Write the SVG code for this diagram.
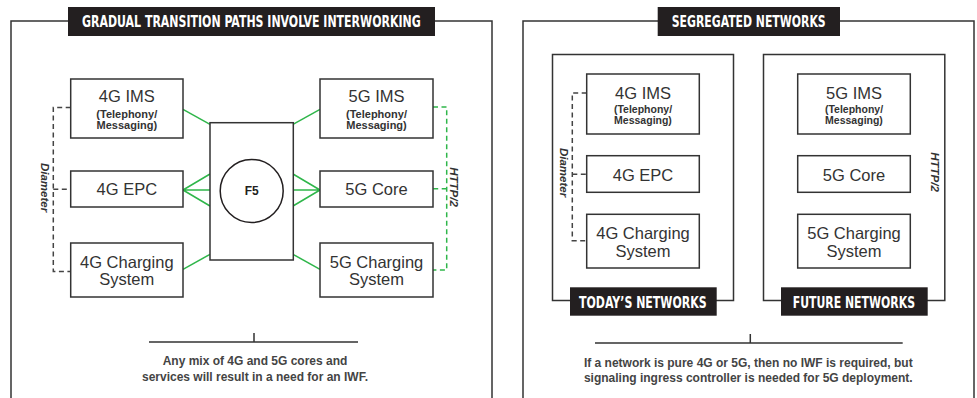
<svg xmlns="http://www.w3.org/2000/svg" width="977" height="398" viewBox="0 0 977 398">
<style>
.bg{fill:#ffffff}
.frame{fill:none;stroke:#333333;stroke-width:1.5}
.box{fill:#ffffff;stroke:#333333;stroke-width:1.5}
.tag{fill:#231f20}
.tagtxt{fill:#ffffff;font-family:"DejaVu Sans Condensed","Liberation Sans Narrow","Liberation Sans",sans-serif;font-weight:bold;font-size:15px}
.lbl{fill:#333333;font-family:"Liberation Sans",Arial,sans-serif;font-size:16.5px;text-anchor:middle}
.sub{fill:#333333;font-family:"Liberation Sans",Arial,sans-serif;font-size:11px;font-weight:bold;text-anchor:middle}
.sub2{fill:#333333;font-family:"Liberation Sans",Arial,sans-serif;font-size:10.5px;font-weight:bold;text-anchor:middle}
.f5{fill:#231f20;font-family:"Liberation Sans",Arial,sans-serif;font-size:12px;font-weight:bold;text-anchor:middle}
.proto{fill:#333333;font-family:"Liberation Sans",Arial,sans-serif;font-size:11.5px;font-weight:bold;font-style:italic;text-anchor:middle}
.note{fill:#444444;font-family:"Liberation Sans",Arial,sans-serif;font-size:12px;font-weight:bold;text-anchor:middle}
.green{fill:none;stroke:#2fb64a;stroke-width:1.5}
.gdash{fill:none;stroke:#2fb64a;stroke-width:1.5;stroke-dasharray:5 3.5}
.kdash{fill:none;stroke:#444444;stroke-width:1.5;stroke-dasharray:5 3.5}
.rule{fill:none;stroke:#333333;stroke-width:1.5}
</style>
<rect class="bg" x="0" y="0" width="977" height="398"/>

<!-- Left panel frame and title -->
<g id="panel-left">
<rect class="frame" x="11" y="21" width="481" height="400"/>
<rect class="tag" x="68" y="7" width="367" height="29"/>
<text class="tagtxt" x="82" y="26.7" textLength="338.7" lengthAdjust="spacingAndGlyphs">GRADUAL TRANSITION PATHS INVOLVE INTERWORKING</text>
</g>

<!-- Right panel frame and title -->
<g id="panel-right">
<rect class="frame" x="523" y="21" width="451" height="400"/>
<rect class="tag" x="657.7" y="7" width="182.3" height="29"/>
<text class="tagtxt" x="671.7" y="26.7" textLength="154" lengthAdjust="spacingAndGlyphs">SEGREGATED NETWORKS</text>
</g>

<!-- Connectors -->
<g id="connectors">
<path class="green" d="M183 109.3 L210 124.3"/>
<path class="green" d="M183 190 L210 174 M183 190 L210 190 M183 190 L210 206"/>
<path class="green" d="M183 269.3 L210 254.3"/>
<path class="green" d="M293 124.3 L320 109.3"/>
<path class="green" d="M320 190 L293 174 M320 190 L293 190 M320 190 L293 206"/>
<path class="green" d="M293 254.3 L320 269.3"/>
<path class="kdash" d="M70.7 107.5 H53.3 V271.5 H70.7"/>
<path class="kdash" d="M53.3 189.3 H70.7"/>
<path class="gdash" d="M433 107 H446.7 V270 H433"/>
<path class="gdash" d="M446.7 188.7 H433"/>
<path class="kdash" d="M586.7 93 H572.3 V240.7 H586.7"/>
<path class="kdash" d="M572.3 174.3 H586.7"/>
<path class="rule" d="M149 342 H358 M254 333 V342"/>
<path class="rule" d="M595 343 H902.7 M750.3 334 V343"/>
</g>

<!-- Protocol labels -->
<g id="labels">
<text class="proto" transform="translate(41,187.5) rotate(90)">Diameter</text>
<text class="proto" transform="translate(450,187) rotate(90)">HTTP/2</text>
<text class="proto" transform="translate(560,172.5) rotate(90)">Diameter</text>
<text class="proto" transform="translate(930.5,172) rotate(90)">HTTP/2</text>
</g>

<!-- Left panel nodes -->
<g id="l-4g-ims">
<rect class="box" x="70.7" y="79" width="112.3" height="59"/>
<text class="lbl" x="126.8" y="102.3">4G IMS</text>
<text class="sub" x="126.8" y="117.5">(Telephony/</text>
<text class="sub" x="126.8" y="128.5">Messaging)</text>
</g>
<g id="l-4g-epc">
<rect class="box" x="70.7" y="171" width="112.3" height="36"/>
<text class="lbl" x="126.8" y="195">4G EPC</text>
</g>
<g id="l-4g-charging">
<rect class="box" x="70.7" y="243" width="112.3" height="54"/>
<text class="lbl" x="126.8" y="268">4G Charging</text>
<text class="lbl" x="126.8" y="284.7">System</text>
</g>
<g id="l-f5">
<rect class="box" x="210" y="122.7" width="83.3" height="137.3"/>
<circle cx="251.7" cy="191" r="31.5" fill="#ffffff" stroke="#231f20" stroke-width="1.5"/>
<text class="f5" x="251.7" y="195.2">F5</text>
</g>
<g id="l-5g-ims">
<rect class="box" x="320" y="79" width="113" height="59"/>
<text class="lbl" x="376.5" y="102.3">5G IMS</text>
<text class="sub" x="376.5" y="117.5">(Telephony/</text>
<text class="sub" x="376.5" y="128.5">Messaging)</text>
</g>
<g id="l-5g-core">
<rect class="box" x="320" y="171" width="113" height="36"/>
<text class="lbl" x="376.5" y="195">5G Core</text>
</g>
<g id="l-5g-charging">
<rect class="box" x="320" y="243" width="113" height="54"/>
<text class="lbl" x="376.5" y="268">5G Charging</text>
<text class="lbl" x="376.5" y="284.7">System</text>
</g>
<g id="l-note">
<text class="note" x="255" y="365.3">Any mix of 4G and 5G cores and</text>
<text class="note" x="255" y="380.7">services will result in a need for an IWF.</text>
</g>

<!-- Right panel: today's networks -->
<g id="today">
<rect class="frame" x="552.5" y="54.5" width="181" height="246"/>
<rect class="tag" x="570" y="287.3" width="146.7" height="28.4"/>
<text class="tagtxt" x="579" y="307.7" textLength="127.7" lengthAdjust="spacingAndGlyphs">TODAY’S NETWORKS</text>
</g>
<g id="r-4g-ims">
<rect class="box" x="586.7" y="74" width="112.6" height="60"/>
<text class="lbl" x="643" y="99.3">4G IMS</text>
<text class="sub2" x="643" y="113">(Telephony/</text>
<text class="sub2" x="643" y="124.2">Messaging)</text>
</g>
<g id="r-4g-epc">
<rect class="box" x="586.7" y="155.7" width="112.6" height="36.6"/>
<text class="lbl" x="643" y="180.8">4G EPC</text>
</g>
<g id="r-4g-charging">
<rect class="box" x="586.7" y="214.3" width="112.6" height="53.7"/>
<text class="lbl" x="643" y="239">4G Charging</text>
<text class="lbl" x="643" y="256.7">System</text>
</g>

<!-- Right panel: future networks -->
<g id="future">
<rect class="frame" x="763.5" y="54.5" width="181.3" height="246"/>
<rect class="tag" x="781" y="287.3" width="146.7" height="28.4"/>
<text class="tagtxt" x="792.7" y="307.7" textLength="122.3" lengthAdjust="spacingAndGlyphs">FUTURE NETWORKS</text>
</g>
<g id="r-5g-ims">
<rect class="box" x="797.7" y="74" width="112.6" height="60"/>
<text class="lbl" x="854" y="99.3">5G IMS</text>
<text class="sub2" x="854" y="113">(Telephony/</text>
<text class="sub2" x="854" y="124.2">Messaging)</text>
</g>
<g id="r-5g-core">
<rect class="box" x="797.7" y="155.7" width="112.6" height="36.6"/>
<text class="lbl" x="854" y="180.8">5G Core</text>
</g>
<g id="r-5g-charging">
<rect class="box" x="797.7" y="214.3" width="112.6" height="53.7"/>
<text class="lbl" x="854" y="239">5G Charging</text>
<text class="lbl" x="854" y="256.7">System</text>
</g>
<g id="r-note">
<text class="note" x="748.3" y="366.7">If a network is pure 4G or 5G, then no IWF is required, but</text>
<text class="note" x="748.3" y="381.5">signaling ingress controller is needed for 5G deployment.</text>
</g>
</svg>
